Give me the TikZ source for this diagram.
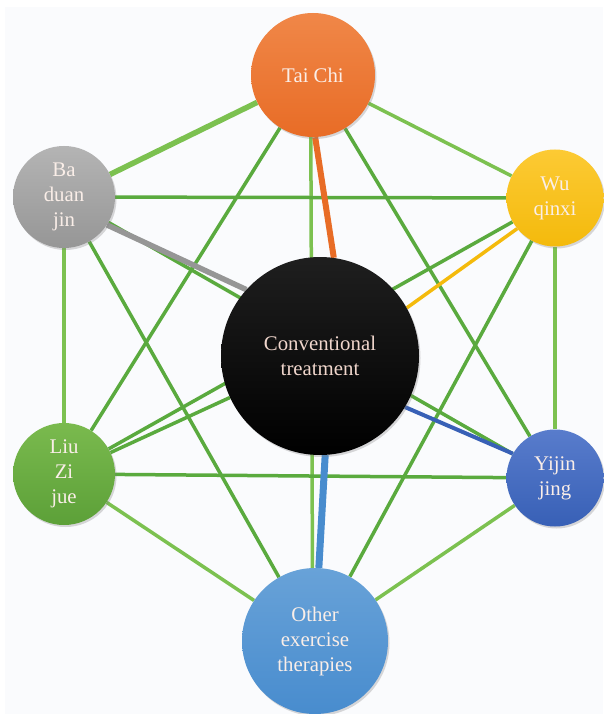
\documentclass[tikz,border=0pt]{standalone}
\usepackage{fontspec}
\setmainfont{Liberation Serif}
\usetikzlibrary{backgrounds,shadows}
\definecolor{bgc}{RGB}{250,251,253}
\definecolor{gA}{RGB}{124,193,80}
\definecolor{gB}{RGB}{90,170,62}
\definecolor{txt}{RGB}{250,238,232}
\definecolor{orT}{RGB}{240,135,72}
\definecolor{orB}{RGB}{232,108,38}
\definecolor{grT}{RGB}{180,180,180}
\definecolor{grB}{RGB}{150,150,150}
\definecolor{yeT}{RGB}{252,202,52}
\definecolor{yeB}{RGB}{244,186,12}
\definecolor{lzT}{RGB}{122,186,78}
\definecolor{lzB}{RGB}{92,160,56}
\definecolor{yjT}{RGB}{88,124,204}
\definecolor{yjB}{RGB}{56,96,182}
\definecolor{oeT}{RGB}{104,162,216}
\definecolor{oeB}{RGB}{72,140,206}
\begin{document}
\begin{tikzpicture}[x=1pt,y=-1pt,
  ball/.style={circle,inner sep=0pt,align=center,text=txt,
    font=\fontsize{20.8}{25}\selectfont,
    drop shadow={opacity=0.3,shadow xshift=1.5pt,shadow yshift=-2pt}},
  lg/.style={gA,line width=3.5pt},
  dg/.style={gB,line width=3.5pt}]
  \useasboundingbox (0,0) rectangle (603,714);
  \node[ball,minimum size=124pt,top color=orT,bottom color=orB] (TC) at (313,75) {Tai Chi};
  \node[ball,minimum size=102pt,top color=grT,bottom color=grB] (BD) at (64,197) {Ba\\duan\\jin};
  \node[ball,minimum size=97pt,top color=yeT,bottom color=yeB] (WQ) at (555,198) {Wu\\qinxi};
  \node[ball,minimum size=198pt,top color=black!88,bottom color=black,text={rgb,255:red,240;green,214;blue,204}] (CT) at (320,356) {Conventional\\treatment};
  \node[ball,minimum size=102pt,top color=lzT,bottom color=lzB] (LZ) at (64,474) {Liu\\Zi\\jue};
  \node[ball,minimum size=97pt,top color=yjT,bottom color=yjB] (YJ) at (555,478) {Yijin\\jing};
  \node[ball,minimum size=146pt,top color=oeT,bottom color=oeB] (OE) at (315,641) {Other\\exercise\\therapies};
  \begin{scope}[on background layer]
    \fill[bgc] (5,7) rectangle (603,714);
    \draw[lg,line width=5.5pt] (TC) -- (BD);
    \draw[lg] (TC) -- (WQ);
    \draw[lg] (BD) -- (LZ);
    \draw[lg] (WQ) -- (YJ);
    \draw[lg] (LZ) -- (OE);
    \draw[lg] (YJ) -- (OE);
    \draw[lg] (TC.-92) -- (OE.92);
    \draw[dg] (BD) -- (WQ);
    \draw[dg] (LZ) -- (YJ);
    \draw[dg] (TC) -- (LZ);
    \draw[dg] (TC) -- (YJ);
    \draw[dg] (BD) -- (YJ);
    \draw[dg] (BD) -- (OE);
    \draw[dg] (WQ) -- (LZ);
    \draw[dg] (WQ) -- (OE);
    \draw[dg] (CT) -- (LZ);
    \draw[orB,line width=6pt] (TC.-88) -- (CT.82);
    \draw[grB,line width=5.5pt] (BD.-33) -- (CT.138);
    \draw[yeB,line width=3.5pt] (WQ.219) -- (CT.29);
    \draw[yjB,line width=4pt] (CT.-31) -- (YJ.150);
    \draw[oeB,line width=7pt] (CT.-87) -- (OE.87);
  \end{scope}
\end{tikzpicture}
\end{document}
